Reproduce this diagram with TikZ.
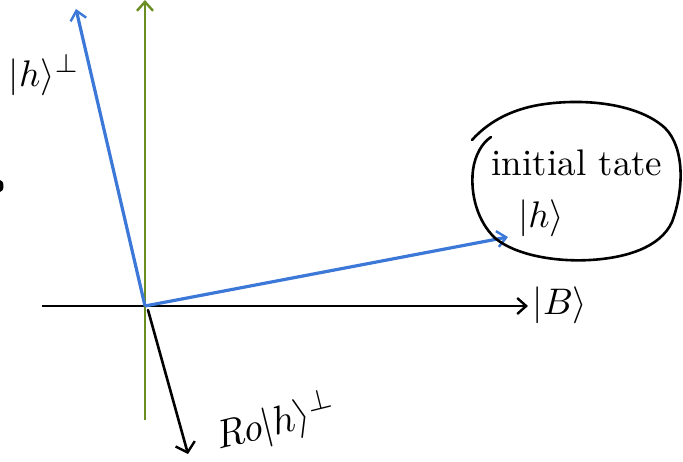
\documentclass[tikz,border=0pt]{standalone}
\usetikzlibrary{arrows.meta}
\definecolor{vecblue}{RGB}{60,120,216}
\definecolor{axgreen}{RGB}{107,142,35}
\begin{document}
\begin{tikzpicture}[x=1pt,y=-1pt,
  tip/.style={-{Straight Barb[length=9pt,width=16pt,line width=2.4pt]}},
  bluevec/.style={tip,draw=vecblue,line width=3.2pt},
  axisline/.style={tip,draw=black,line width=2.2pt},
  greenaxis/.style={tip,draw=axgreen,line width=2.4pt},
  bigmath/.style={scale=3.7,inner sep=0pt},
  bigtext/.style={scale=3.7,inner sep=0pt},
  hand/.style={draw=black,line width=2.6pt,line cap=round,line join=round}]
\useasboundingbox (0,0) rectangle (683,461);
\coordinate (O) at (145,306);
\coordinate (Xs) at (42,306);
\coordinate (Xe) at (528,306);
\coordinate (Gs) at (145,420);
\coordinate (Ge) at (145,0);
\coordinate (Hp) at (76,9);
\coordinate (H) at (508,237);
\coordinate (Os) at (148,310);
\coordinate (D) at (188,454);
% axes
\draw[axisline] (Xs) -- (Xe);
\draw[greenaxis] (Gs) -- (Ge);
% vectors
\draw[bluevec] (O) -- (Hp);
\draw[bluevec] (O) -- (H);
% labels
\node[bigmath,anchor=west] (lB) at (532,305) {$|B\rangle$};
\node[bigmath,anchor=west] (lHp) at (8,75) {$|h\rangle^{\perp}$};
\node[bigtext] (lInit) at (577,163) {initial tate};
\node[bigmath] (lH) at (541,218) {$|h\rangle$};
% handwritten loop
\draw[hand] (472,140) .. controls (490,120) and (515,108) .. (545,104)
  .. controls (590,98) and (640,105) .. (665,128)
  .. controls (685,148) and (684,190) .. (672,222)
  .. controls (660,248) and (625,258) .. (590,260)
  .. controls (555,262) and (515,255) .. (495,238)
  .. controls (478,222) and (470,195) .. (473,170)
  .. controls (475,155) and (482,143) .. (491,137);
% handwritten arrow down
\draw[hand,-{Straight Barb[length=9pt,width=20pt,line width=2.4pt]}] (Os) -- (D);
\node[font=\itshape,scale=4,rotate=14,inner sep=0pt] (lR) at (276,423) {Ro$|h\rangle^{\perp}$};
% dot at left edge
\fill (0,186) ellipse (3.5 and 6);
\end{tikzpicture}
\end{document}
